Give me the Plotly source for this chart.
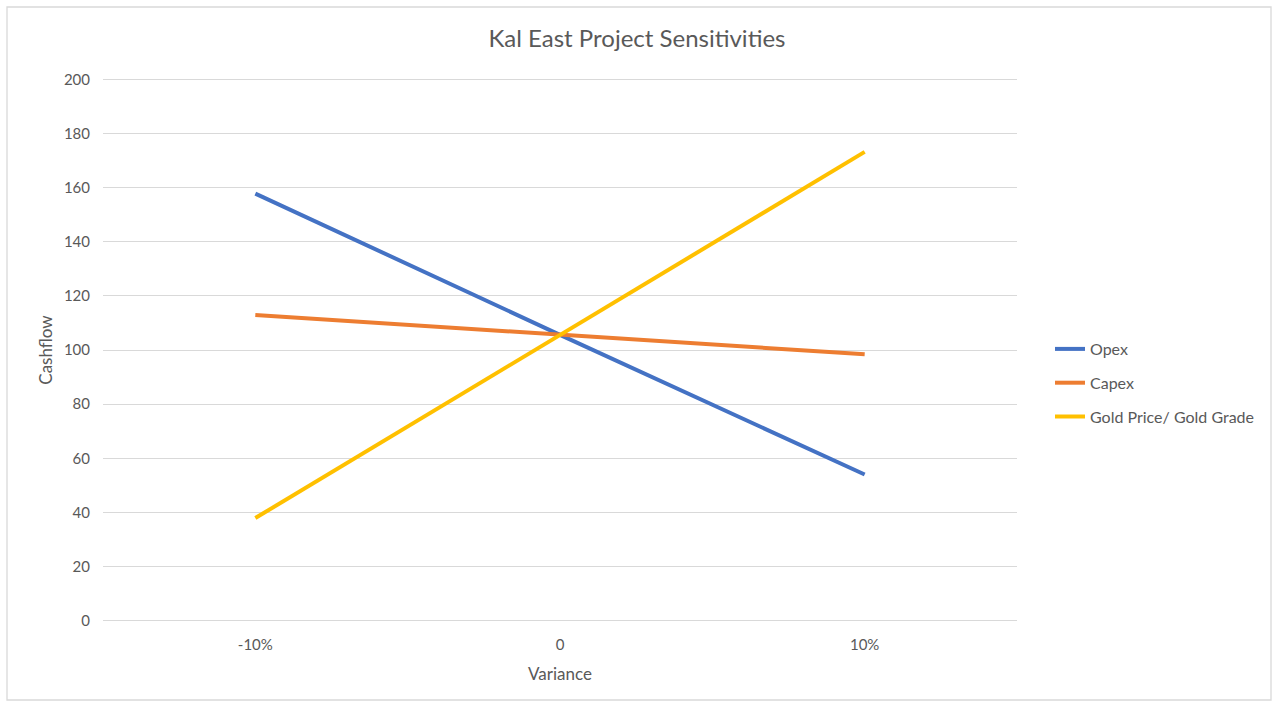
import plotly.graph_objects as go

categories = ["-10%", "0", "10%"]
opex = [157.8, 105.6, 54.0]
capex = [112.9, 105.6, 98.4]
gold = [37.9, 105.6, 173.2]
series_names = ["Opex", "Capex", "Gold Price/ Gold Grade"]
colors = ["#4472C4", "#ED7D31", "#FFC000"]
y_ticks = [0, 20, 40, 60, 80, 100, 120, 140, 160, 180, 200]

FONT = "Lato, Carlito, Calibri, sans-serif"
GREY = "#595959"

fig = go.Figure()
for name, vals, col in zip(series_names, [opex, capex, gold], colors):
    fig.add_trace(go.Scatter(
        x=categories, y=vals, name=name, mode="lines", legendgroup=name,
        line=dict(color=col, width=4),
    ))

# plot area: x 103..1017, y 78..622 (range padded so edge gridlines show)
L, R, T, B = 103, 1017, 78, 622
fig.update_layout(
    width=1274, height=704,
    margin=dict(l=L, r=1274 - R, t=T, b=704 - B),
    paper_bgcolor="white", plot_bgcolor="white",
    font=dict(family=FONT, color=GREY, size=15),
    title=dict(text="Kal East Project Sensitivities", x=0.5, xanchor="center",
               y=1 - 39 / 704, yanchor="middle",
               font=dict(size=24, color=GREY, family=FONT)),
    legend=dict(x=(1050 - L) / (R - L), xanchor="left", y=(B - 383) / (B - T), yanchor="middle",
                font=dict(size=16, color=GREY, family=FONT),
                tracegroupgap=10, bgcolor="rgba(0,0,0,0)"),
    showlegend=True,
)
fig.update_xaxes(type="category", range=[-0.5, 2.5], showgrid=False,
                 showline=False, zeroline=False, ticks="", ticklabelstandoff=12,
                 tickfont=dict(size=15, color=GREY),
                 title=dict(text="Variance", font=dict(size=17, color=GREY), standoff=16))
fig.update_yaxes(range=[-0.5, 200.5], tickvals=y_ticks, showgrid=True,
                 gridcolor="#D9D9D9", gridwidth=1.3, zeroline=False,
                 showline=False, ticks="", ticklabelstandoff=12,
                 tickfont=dict(size=15, color=GREY),
                 title=dict(text="Cashflow", font=dict(size=17, color=GREY), standoff=6))
# outer chart border
fig.add_shape(type="rect", xref="paper", yref="paper",
              x0=(7 - L) / (R - L), x1=(1271 - L) / (R - L),
              y0=-(700 - B) / (B - T), y1=1 + (T - 7) / (B - T),
              line=dict(color="#D9D9D9", width=1.3), fillcolor="rgba(0,0,0,0)", layer="below")

fig.write_html("out.html", config={"displayModeBar": False},
               post_script="document.body.style.margin='0';")
